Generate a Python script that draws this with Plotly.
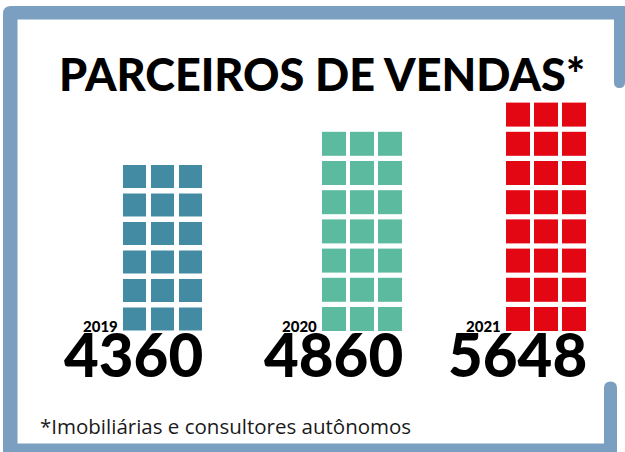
import plotly.graph_objects as go

# Sales partners per year (each square stands for roughly 240 partners)
YEARS = ["2019", "2020", "2021"]
PARTNERS = [4360, 4860, 5648]
PARTNERS_PER_SQUARE = 240
GRID_COLS = 3

# Layout (pixel space of the 625x452 canvas)
W, H = 625, 452
GRID_RIGHT = [202, 402, 586]      # right edge of each square grid
BOTTOM_ROW_Y = 319                # centre of the lowest row of squares
COL_PITCH = 28
ROW_PITCH = [28.5, 29.2, 29.2]
SQUARE_SIZE = [23, 24, 24]
COLORS = ["#438aa3", "#5cbb9f", "#e30613"]
FRAME_COLOR = "#7a9fc0"

fig = go.Figure()

for i, (year, value) in enumerate(zip(YEARS, PARTNERS)):
    n_rows = round(value / (PARTNERS_PER_SQUARE * GRID_COLS))
    xs, ys = [], []
    for r in range(n_rows):
        for c in range(GRID_COLS):
            xs.append(GRID_RIGHT[i] - SQUARE_SIZE[i] / 2 - (GRID_COLS - 1 - c) * COL_PITCH)
            ys.append(BOTTOM_ROW_Y - r * ROW_PITCH[i])
    fig.add_trace(go.Scatter(
        x=xs, y=ys, mode="markers", name=year, hoverinfo="skip",
        marker=dict(symbol="square", size=SQUARE_SIZE[i], color=COLORS[i],
                    line=dict(width=0)),
    ))
    grid_left = GRID_RIGHT[i] - SQUARE_SIZE[i] - (GRID_COLS - 1) * COL_PITCH
    # year label, to the left of the bottom row
    fig.add_annotation(x=grid_left - 3, y=325.5, text=year,
                       xanchor="right", yanchor="middle", showarrow=False,
                       font=dict(family="Lato", size=15, color="#000000", weight=900))
    # total under the grid
    fig.add_annotation(x=GRID_RIGHT[i] + 3, y=354, text=f"{value}",
                       xanchor="right", yanchor="middle", showarrow=False,
                       font=dict(family="Lato", size=60, color="#000000", weight=900))

# Frame around the graphic
frame_path = (
    "M 3,452 L 3,14 Q 3,6 11,6 L 625,6 L 625,82 Q 625,88 619.5,88 "
    "Q 614,88 614,82 L 614,19.5 L 17.5,19.5 L 17.5,443.5 L 604,443.5 "
    "L 604,388 Q 604,381.5 610.5,381.5 Q 617,381.5 617,388 L 617,452 Z"
)
fig.add_shape(type="path", path=frame_path, xref="x", yref="y",
              fillcolor=FRAME_COLOR, line=dict(width=0), layer="above")

fig.add_annotation(x=322, y=74, text="PARCEIROS DE VENDAS*",
                   xanchor="center", yanchor="middle", showarrow=False,
                   font=dict(family="Lato", size=45, color="#000000", weight=900))

fig.add_annotation(x=38, y=426, text="*Imobiliárias e consultores autônomos",
                   xanchor="left", yanchor="middle", showarrow=False,
                   font=dict(family="Open Sans", size=20.5, color="#1a1a1a"))

fig.update_layout(
    width=W, height=H,
    margin=dict(l=0, r=0, t=0, b=0),
    paper_bgcolor="white", plot_bgcolor="white",
    showlegend=False,
    xaxis=dict(range=[0, W], visible=False, fixedrange=True),
    yaxis=dict(range=[H, 0], visible=False, fixedrange=True),
)

fig.write_html("out.html")
